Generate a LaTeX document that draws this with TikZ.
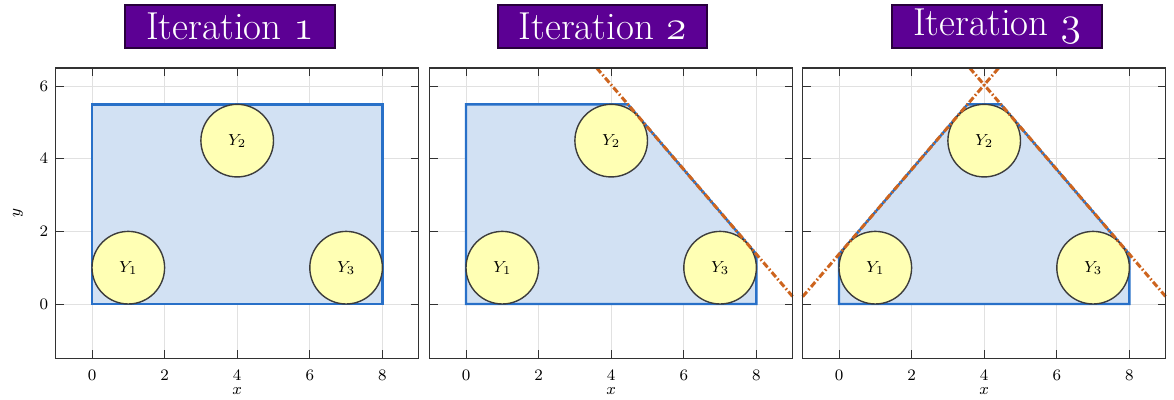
\documentclass[tikz,border=0pt]{standalone}
\definecolor{titlefill}{RGB}{92,0,148}
\definecolor{titledraw}{RGB}{40,0,60}
\definecolor{regionfill}{RGB}{210,225,243}
\definecolor{regionline}{RGB}{40,112,200}
\definecolor{cutline}{RGB}{205,100,30}
\definecolor{ballfill}{RGB}{255,255,180}
\definecolor{balldraw}{RGB}{60,60,60}
\definecolor{gridgray}{RGB}{225,225,225}
\definecolor{framegray}{RGB}{50,50,50}
\newcommand\osnum[1]{{\fontencoding{OML}\fontfamily{cmm}\fontseries{m}\fontshape{it}\selectfont #1}}
\tikzset{
 titlebox/.style={draw=titledraw, line width=1pt, fill=titlefill, text=white,
   font=\fontsize{19.5}{22}\selectfont, inner xsep=10.5pt, inner ysep=0pt, minimum height=21.5pt},
 ball/.style={circle, draw=balldraw, fill=ballfill, line width=0.7pt, minimum size=36.3pt,
   inner sep=0pt, font=\fontsize{8.5}{10}\selectfont},
 region/.style={fill=regionfill, draw=regionline, line width=1.2pt},
 cut/.style={draw=cutline, line width=1.5pt, dash pattern=on 3.2pt off 1.2pt on 0.8pt off 1.2pt},
 ticklabel/.style={font=\fontsize{8}{9.5}\selectfont, inner sep=0pt},
 gridline/.style={draw=gridgray, line width=0.4pt},
 axisframe/.style={draw=framegray, line width=0.6pt},
 tickmark/.style={draw=framegray, line width=0.4pt},
}
\newcommand\axisback{%
 \foreach \gx in {0,2,...,8} {\draw[gridline] (\gx,-1.5) -- (\gx,6.5);}
 \foreach \gy in {0,2,4,6} {\draw[gridline] (-1,\gy) -- (9,\gy);}
}
\newcommand\axisfront[1]{%
 \foreach \gx in {0,2,...,8} {
   \draw[tickmark] (\gx,-1.5) -- ++(0,4pt);
   \draw[tickmark] (\gx,6.5) -- ++(0,-4pt);
   \node[ticklabel] (#1x\gx) at ([yshift=-8.3pt]\gx,-1.5) {$\gx$};
 }
 \foreach \gy in {0,2,4,6} {
   \draw[tickmark] (-1,\gy) -- ++(4pt,0);
   \draw[tickmark] (9,\gy) -- ++(-4pt,0);
 }
 \draw[axisframe] (-1,-1.5) rectangle (9,6.5);
 \node[ticklabel] (#1xlab) at ([yshift=-16.3pt]4,-1.5) {$x$};
}
\newcommand\balls[1]{%
 \node[ball] (#1Y1) at (1,1) {$Y_1$};
 \node[ball] (#1Y2) at (4,4.5) {$Y_2$};
 \node[ball] (#1Y3) at (7,1) {$Y_3$};
}
\begin{document}
\begin{tikzpicture}[x=0.5pt,y=-0.5pt]
\useasboundingbox (0,0) rectangle (1174,400);

% titles
\node[titlebox] (t1) at (230,26.5) {Iteration \osnum{1}};
\node[titlebox] (t2) at (602.5,26.5) {Iteration \osnum{2}};
\node[titlebox] (t3) at (997,26.5) {Iteration \osnum{3}};

% panel 1
\begin{scope}[shift={(92,304)}, x=18.15pt, y=18.15pt]
 \axisback
 \draw[region] (0,0) rectangle (8,5.5);
 \balls{a}
 \axisfront{a}
 \foreach \gy in {0,2,4,6} {\node[ticklabel, anchor=east] (ay\gy) at ([xshift=-3.6pt]-1,\gy) {$\gy$};}
 \node[ticklabel, rotate=90] (aylab) at ([xshift=-18.9pt]-1,2.5) {$y$};
\end{scope}

% panel 2
\begin{scope}[shift={(466,304)}, x=18.15pt, y=18.15pt]
 \axisback
 \draw[region] (0,0) -- (8,0) -- (8,1.370) -- (4.460,5.5) -- (0,5.5) -- cycle;
 \balls{b}
 \coordinate (bc1) at (3.603,6.5);
 \coordinate (bc2) at (9,0.203);
 \draw[cut] (bc1) -- (bc2);
 \axisfront{b}
\end{scope}

% panel 3
\begin{scope}[shift={(839,304)}, x=18.15pt, y=18.15pt]
 \axisback
 \draw[region] (0,0) -- (8,0) -- (8,1.370) -- (4.460,5.5) -- (3.540,5.5) -- (0,1.370) -- cycle;
 \balls{c}
 \coordinate (cc1) at (3.603,6.5);
 \coordinate (cc2) at (9,0.203);
 \coordinate (cc3) at (-1,0.203);
 \coordinate (cc4) at (4.397,6.5);
 \draw[cut] (cc1) -- (cc2);
 \draw[cut] (cc3) -- (cc4);
 \axisfront{c}
\end{scope}
\end{tikzpicture}
\end{document}
